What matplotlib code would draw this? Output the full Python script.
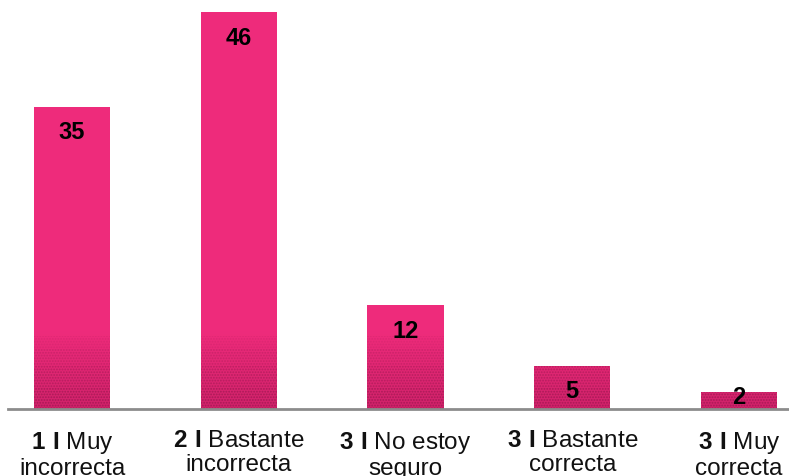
import matplotlib
matplotlib.use("Agg")
import matplotlib.pyplot as plt
import numpy as np
from matplotlib.colors import to_rgb

prefixes = ["1 I", "2 I", "3 I", "3 I", "3 I"]
line1 = ["Muy", "Bastante", "No estoy", "Bastante", "Muy"]
line2 = ["incorrecta", "incorrecta", "seguro", "correcta", "correcta"]
values = [35, 46, 12, 5, 2]

plt.rcParams['mathtext.fontset'] = 'custom'
plt.rcParams['mathtext.rm'] = 'Liberation Sans'
plt.rcParams['mathtext.bf'] = 'Liberation Sans:bold'
plt.rcParams['font.family'] = ['Liberation Sans', 'DejaVu Sans']
plt.rcParams['hatch.linewidth'] = 0.9

W, H = 789, 476
fig = plt.figure(figsize=(W/100, H/100), dpi=100)
ax_left, ax_right = 8, 789
ax_bottom_px = 409
ax = fig.add_axes([ax_left/W, (H-ax_bottom_px)/H, (ax_right-ax_left)/W, ax_bottom_px/H])

x = np.arange(len(values))
ax.set_xlim(-0.384, 4.30)
ax.set_ylim(0, 47.4)
width = 0.456

top_col = np.array(to_rgb("#EE2B7B"))
bot_col = np.array(to_rgb("#D0226A"))
grad_top = 9.0
n_slices = 30

ax.bar(x, values, width=width, color=top_col, linewidth=0, zorder=2)
for xi, v in zip(x, values):
    h = min(v, grad_top)
    edges = np.linspace(0, grad_top, n_slices + 1)
    for i in range(n_slices):
        lo = edges[i]
        if lo >= h:
            break
        hi = min(edges[i + 1] + 0.02, h)
        t = (lo + edges[i + 1]) / 2 / grad_top
        c = bot_col * (1 - t) + top_col * t
        ax.bar(xi, hi - lo, bottom=lo, width=width, color=c, linewidth=0, zorder=3)
    segs = [(0.0, 2.5, 0.6), (2.5, 5.0, 0.45), (5.0, 7.0, 0.28), (7.0, 8.5, 0.14)]
    for lo, hi, a in segs:
        if v <= lo:
            continue
        ax.bar(xi, min(v, hi) - lo, bottom=lo, width=width,
               facecolor='none', edgecolor='#8e1449', linewidth=0, hatch='......',
               alpha=a, zorder=4)

unit_px = ax_bottom_px / 47.4
for xi, v in zip(x, values):
    ypos = max(v - 26/unit_px, 11/unit_px)
    ax.text(xi, ypos, str(v), ha='center', va='center', fontsize=17,
            fontweight='bold', color='black', zorder=6,
            family=['Liberation Sans Narrow', 'Liberation Sans', 'DejaVu Sans'])

for s in ['top', 'right', 'left']:
    ax.spines[s].set_visible(False)
ax.spines['bottom'].set_color('#8c8c8c')
ax.spines['bottom'].set_linewidth(2)
ax.spines['bottom'].set_zorder(5)
ax.set_yticks([])
ax.set_xticks(x)
labels = [r"$\mathbf{%s}$ %s" % (p.replace(" ", r"\ "), l1) + "\n" + l2
          for p, l1, l2 in zip(prefixes, line1, line2)]
ax.set_xticklabels(labels, fontsize=17.5, linespacing=1.15, color='#111111')
ax.tick_params(axis='x', length=0, pad=15)

fig.savefig("out.png", dpi=100)
